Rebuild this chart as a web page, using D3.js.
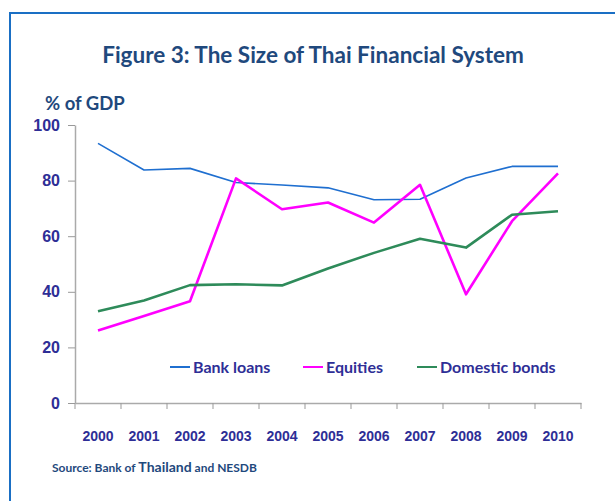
<!DOCTYPE html>
<html>
<head>
<meta charset="utf-8">
<script src="https://cdn.jsdelivr.net/npm/d3@7"></script>
<style>
  html, body { margin: 0; padding: 0; background: #fff; }
  svg { display: block; font-family: Lato, "Open Sans", sans-serif; }
</style>
</head>
<body>
<script>
const years = ['2000','2001','2002','2003','2004','2005','2006','2007','2008','2009','2010']
const bank_loans = [93.4, 83.8, 84.4, 79.3, 78.4, 77.4, 73.1, 73.3, 80.9, 85.1, 85.1]
const equities = [26.1, 31.3, 36.6, 80.8, 69.7, 72.1, 64.9, 78.5, 39.1, 65.4, 82.6]
const domestic_bonds = [33.0, 36.9, 42.4, 42.7, 42.3, 48.4, 54.0, 59.1, 55.9, 67.7, 69.0]
const y_ticks = [0, 20, 40, 60, 80, 100]

const series = [
  {name: 'Bank loans', values: bank_loans, color: '#1f6fd0', width: 1.6},
  {name: 'Equities', values: equities, color: '#ff00ff', width: 2.6},
  {name: 'Domestic bonds', values: domestic_bonds, color: '#2e8b5a', width: 2.6}
]

const width = 615, height = 501
const margin = {top: 125, left: 75, right: 34, bottom: 98}
const labelColor = '#2e2e96'
const titleColor = '#1f497d'

const svg = d3.select('body').append('svg')
  .attr('width', width)
  .attr('height', height)
  .attr('viewBox', '0,0,' + width + ',' + height)

// frame (only top and left edges fall inside the picture)
svg.append('path')
  .attr('d', `M10,${height} V13 H${width}`)
  .attr('fill', 'none')
  .attr('stroke', '#1a6fc4')
  .attr('stroke-width', 2)

svg.append('text')
  .attr('x', 313).attr('y', 63)
  .attr('text-anchor', 'middle')
  .attr('fill', titleColor)
  .attr('font-weight', 'bold')
  .attr('font-size', 22.5)
  .text('Figure 3: The Size of Thai Financial System')

svg.append('text')
  .attr('x', 45).attr('y', 110)
  .attr('fill', titleColor)
  .attr('font-weight', 'bold')
  .attr('font-size', 18.5)
  .text('% of GDP')

const x = d3.scaleBand()
  .domain(years)
  .range([margin.left, width - margin.right])

const y = d3.scaleLinear()
  .domain([0, 100])
  .range([height - margin.bottom, margin.top])

const xAxis = g => g
  .attr('transform', `translate(0,${y(0)})`)
  .call(d3.axisBottom(x).tickSize(0).tickPadding(28))
  .call(g => g.select('.domain').attr('stroke', '#aaa').attr('stroke-width', 1.5))
  .call(g => g.selectAll('text')
    .attr('fill', labelColor).attr('font-size', 14).attr('font-weight', 900))

const yAxis = g => g
  .attr('transform', `translate(${margin.left},0)`)
  .call(d3.axisLeft(y).tickValues(y_ticks).tickSize(7).tickSizeOuter(0).tickPadding(8))
  .call(g => g.select('.domain').attr('stroke', '#aaa').attr('stroke-width', 1.5))
  .call(g => g.selectAll('.tick line').attr('stroke', '#999'))
  .call(g => g.selectAll('text')
    .attr('fill', labelColor).attr('font-size', 16).attr('font-weight', 900))

svg.append('g').call(xAxis)
svg.append('g').call(yAxis)

// band boundary ticks on the x axis
const bounds = years.map(d => x(d)).concat([x(years[years.length - 1]) + x.bandwidth()])
svg.append('g')
  .selectAll('line').data(bounds).enter().append('line')
    .attr('x1', d => d).attr('x2', d => d)
    .attr('y1', y(0)).attr('y2', y(0) + 6)
    .attr('stroke', '#999')

const line = d3.line()
  .x((d, i) => x(years[i]) + x.bandwidth() / 2)
  .y(d => y(d))

svg.append('g')
  .selectAll('path').data(series).enter().append('path')
    .attr('fill', 'none')
    .attr('stroke', d => d.color)
    .attr('stroke-width', d => d.width)
    .attr('stroke-linejoin', 'round')
    .attr('d', d => line(d.values))

// legend
const legend_x = [170, 303, 417]
const legend = svg.append('g')
  .selectAll('g').data(series).enter().append('g')
    .attr('transform', (d, i) => `translate(${legend_x[i]},367)`)
legend.append('line')
  .attr('x1', 0).attr('x2', 20)
  .attr('stroke', d => d.color)
  .attr('stroke-width', 2)
legend.append('text')
  .attr('x', 23).attr('y', 6)
  .attr('fill', labelColor)
  .attr('font-size', 16)
  .attr('font-weight', 'bold')
  .text(d => d.name)

const src = svg.append('text')
  .attr('x', 52).attr('y', 472)
  .attr('fill', titleColor)
  .attr('font-weight', 'bold')
  .attr('font-size', 12)
src.append('tspan').text('Source: Bank of ')
src.append('tspan').attr('font-size', 14).text('Thailand')
src.append('tspan').text(' and NESDB')
</script>
</body>
</html>
